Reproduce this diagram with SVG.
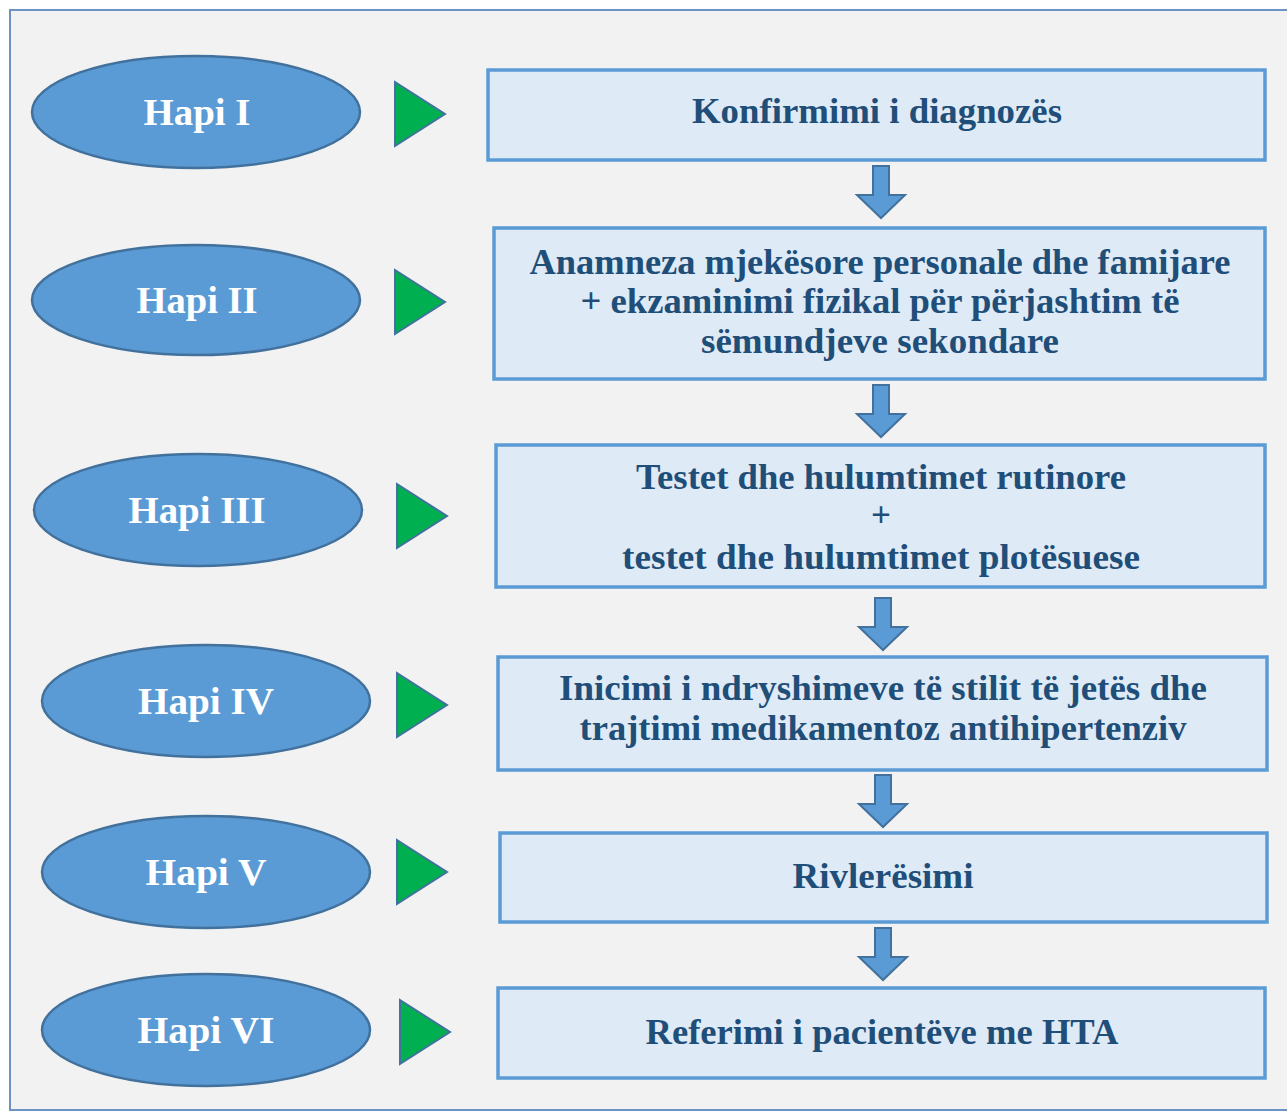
<svg xmlns="http://www.w3.org/2000/svg" xmlns:xlink="http://www.w3.org/1999/xlink" width="1287" height="1112" viewBox="0 0 1287 1112">
<style>
.step ellipse{fill:#5B9BD5;stroke:#41719C;stroke-width:2.5}
.step text{font-family:"Liberation Serif","Times New Roman",serif;font-weight:bold;font-size:38px;fill:#FFFFFF;text-anchor:middle}
.box rect{fill:#DEEAF6;stroke:#5B9BD5;stroke-width:3.5}
.box text{font-family:"Liberation Serif","Times New Roman",serif;font-weight:bold;font-size:35px;fill:#1F4E79;text-anchor:middle}
.tri{fill:#00B050;stroke:#41719C;stroke-width:2;stroke-linejoin:miter}
.down{fill:#5B9BD5;stroke:#41719C;stroke-width:2}
</style>
<defs>
<path id="tri" d="M0,0 L50,32 L0,64 Z"/>
<path id="down" d="M-8,0 H8 V29 H24 L0,52 L-24,29 H-8 Z"/>
</defs>
<rect x="0" y="0" width="1287" height="1112" fill="#FFFFFF"/>
<rect x="10" y="10" width="1290" height="1100" fill="#F2F2F2" stroke="#6C93C4" stroke-width="2"/>

<g id="step1" class="step"><ellipse cx="196" cy="112" rx="164" ry="56"/><text x="197" y="125" textLength="107" lengthAdjust="spacingAndGlyphs">Hapi I</text></g>
<g id="step2" class="step"><ellipse cx="196" cy="300" rx="164" ry="55"/><text x="197" y="313" textLength="121" lengthAdjust="spacingAndGlyphs">Hapi II</text></g>
<g id="step3" class="step"><ellipse cx="198" cy="510" rx="164" ry="56"/><text x="197" y="523" textLength="137" lengthAdjust="spacingAndGlyphs">Hapi III</text></g>
<g id="step4" class="step"><ellipse cx="206" cy="701" rx="164" ry="56"/><text x="206" y="714" textLength="136" lengthAdjust="spacingAndGlyphs">Hapi IV</text></g>
<g id="step5" class="step"><ellipse cx="206" cy="872" rx="164" ry="56"/><text x="206" y="885" textLength="121" lengthAdjust="spacingAndGlyphs">Hapi V</text></g>
<g id="step6" class="step"><ellipse cx="206" cy="1030" rx="164" ry="56"/><text x="206" y="1043" textLength="137" lengthAdjust="spacingAndGlyphs">Hapi VI</text></g>

<g id="box1" class="box"><rect x="488" y="70" width="777" height="90"/>
<text x="877" y="123" textLength="370" lengthAdjust="spacingAndGlyphs">Konfirmimi i diagnozës</text></g>
<g id="box2" class="box"><rect x="494" y="228" width="771" height="151"/>
<text x="880" y="274" textLength="701" lengthAdjust="spacingAndGlyphs">Anamneza mjekësore personale dhe famijare</text>
<text x="880" y="313" textLength="599" lengthAdjust="spacingAndGlyphs">+ ekzaminimi fizikal për përjashtim të</text>
<text x="880" y="353" textLength="358" lengthAdjust="spacingAndGlyphs">sëmundjeve sekondare</text></g>
<g id="box3" class="box"><rect x="496" y="445" width="769" height="142"/>
<text x="881" y="489" textLength="490" lengthAdjust="spacingAndGlyphs">Testet dhe hulumtimet rutinore</text>
<text x="881" y="527">+</text>
<text x="881" y="569" textLength="518" lengthAdjust="spacingAndGlyphs">testet dhe hulumtimet plotësuese</text></g>
<g id="box4" class="box"><rect x="498" y="657" width="769" height="113"/>
<text x="883" y="700" textLength="648" lengthAdjust="spacingAndGlyphs">Inicimi i ndryshimeve të stilit të jetës dhe</text>
<text x="883" y="740" textLength="607" lengthAdjust="spacingAndGlyphs">trajtimi medikamentoz antihipertenziv</text></g>
<g id="box5" class="box"><rect x="500" y="833" width="767" height="89"/>
<text x="883" y="888" textLength="181" lengthAdjust="spacingAndGlyphs">Rivlerësimi</text></g>
<g id="box6" class="box"><rect x="498" y="988" width="767" height="90"/>
<text x="882" y="1044" textLength="473" lengthAdjust="spacingAndGlyphs">Referimi i pacientëve me HTA</text></g>

<g id="connectors">
<use xlink:href="#tri" href="#tri" class="tri" transform="translate(395,82)"/>
<use xlink:href="#tri" href="#tri" class="tri" transform="translate(395,270)"/>
<use xlink:href="#tri" href="#tri" class="tri" transform="translate(397,484)"/>
<use xlink:href="#tri" href="#tri" class="tri" transform="translate(397,673)"/>
<use xlink:href="#tri" href="#tri" class="tri" transform="translate(397,840)"/>
<use xlink:href="#tri" href="#tri" class="tri" transform="translate(400,1000)"/>
<use xlink:href="#down" href="#down" class="down" transform="translate(881,166)"/>
<use xlink:href="#down" href="#down" class="down" transform="translate(881,385)"/>
<use xlink:href="#down" href="#down" class="down" transform="translate(883,598)"/>
<use xlink:href="#down" href="#down" class="down" transform="translate(883,775)"/>
<use xlink:href="#down" href="#down" class="down" transform="translate(883,928)"/>
</g>
</svg>
